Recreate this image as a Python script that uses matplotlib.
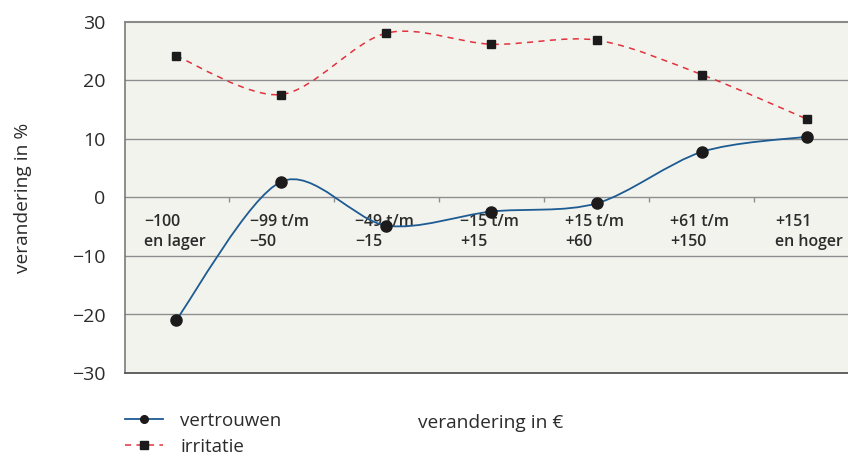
import numpy as np
import matplotlib
matplotlib.use("Agg")
import matplotlib.pyplot as plt
from matplotlib.path import Path
from matplotlib.patches import PathPatch
from matplotlib.lines import Line2D

plt.rcParams['font.family'] = ['Open Sans', 'DejaVu Sans']

categories = ["\u2212100\nen lager", "\u221299 t/m\n\u221250", "\u221249 t/m\n\u221215",
              "\u221215 t/m\n+15", "+15 t/m\n+60", "+61 t/m\n+150", "+151\nen hoger"]
vertrouwen = [-21.0, 2.7, -4.8, -2.4, -1.0, 7.8, 10.4]
irritatie = [24.2, 17.6, 28.1, 26.2, 26.9, 21.0, 13.4]
y_ticks = [-30, -20, -10, 0, 10, 20, 30]

TEXT = "#2b2b2b"
BLUE = "#1d5b93"
RED = "#e2323c"
MARK = "#1c1a1b"
GRID = "#8e8e8e"


def smooth_path(xs, ys, k=1 / 6.5):
    """Cardinal-spline curve through the points, as cubic Bezier segments."""
    pts = np.column_stack([xs, ys]).astype(float)
    n = len(pts)
    verts = [pts[0]]
    codes = [Path.MOVETO]
    for i in range(n - 1):
        p0 = pts[i - 1] if i > 0 else pts[i]
        p1 = pts[i]
        p2 = pts[i + 1]
        p3 = pts[i + 2] if i + 2 < n else pts[i + 1]
        c1 = p1 + (p2 - p0) * k
        c2 = p2 - (p3 - p1) * k
        verts += [c1, c2, p2]
        codes += [Path.CURVE4] * 3
    return Path(verts, codes)


W, H = 848, 461
fig = plt.figure(figsize=(W / 100, H / 100), dpi=100)
ax = fig.add_axes([125 / W, 1 - 373 / H, (W - 125) / W, (373 - 22) / H])
ax.set_facecolor("#f3f3ee")

x = np.arange(len(categories))
ax.set_xlim(-0.485, 6.39)
ax.set_ylim(-30, 30)

# horizontal reference lines
for yv in [-20, -10, 0, 10, 20]:
    ax.axhline(yv, color=GRID, lw=1.0, zorder=1)
# small boundary ticks hanging below the zero line
ax.vlines(x[:-1] + 0.5, 0, -0.85, color=GRID, lw=1.0, zorder=1)

# curves
ax.add_patch(PathPatch(smooth_path(x, vertrouwen), facecolor="none",
                       edgecolor=BLUE, lw=1.3, zorder=3))
ax.add_patch(PathPatch(smooth_path(x, irritatie), facecolor="none",
                       edgecolor=RED, lw=1.1, ls=(0, (4, 3.5)), zorder=3))
ax.plot(x, vertrouwen, ls="none", marker="o", ms=8, color=MARK, zorder=4)
ax.plot(x, irritatie, ls="none", marker="s", ms=5.5, color=MARK, zorder=4)

# category labels inside the plot area, below the zero line
for xi, lab in zip(x, categories):
    ax.text(xi - 0.3, -2.8, lab, ha="left", va="top", fontsize=11.4,
            fontweight="semibold", color=TEXT, linespacing=1.35, zorder=2)

ax.set_xticks([])
ax.set_yticks(y_ticks)
ax.set_yticklabels([f"{v:d}".replace("-", "\u2212") for v in y_ticks])
ax.tick_params(axis="y", length=0, pad=14, labelsize=14, labelcolor=TEXT)

ax.spines["right"].set_visible(False)
ax.spines["top"].set_color("#8a8a8a")
ax.spines["top"].set_linewidth(1.5)
ax.spines["left"].set_color("#7a7a7a")
ax.spines["left"].set_linewidth(1.2)
ax.spines["bottom"].set_color("#555555")
ax.spines["bottom"].set_linewidth(1.3)

ax.set_ylabel("verandering in %", fontsize=13.8, color=TEXT)
ax.yaxis.set_label_coords(-0.129, 0.5)

fig.text(418 / W, 1 - 423 / H, "verandering in \u20ac", fontsize=13.8,
         color=TEXT, va="center", ha="left")

handles = [
    Line2D([], [], color=BLUE, lw=1.3, marker="o", ms=5.5, mfc=MARK, mec=MARK),
    Line2D([], [], color=RED, lw=1.1, ls=(0, (4, 3.5)), marker="s", ms=5.5, mfc=MARK, mec=MARK),
]
leg = fig.legend(handles, ["vertrouwen", "irritatie"], loc="upper left",
                 bbox_to_anchor=(125 / W, 1 - 412 / H), frameon=False,
                 fontsize=13.5, handlelength=2.0, handletextpad=0.95,
                 labelspacing=0.4, borderpad=0, borderaxespad=0)
for t in leg.get_texts():
    t.set_color(TEXT)

fig.savefig("out.png", dpi=100)
